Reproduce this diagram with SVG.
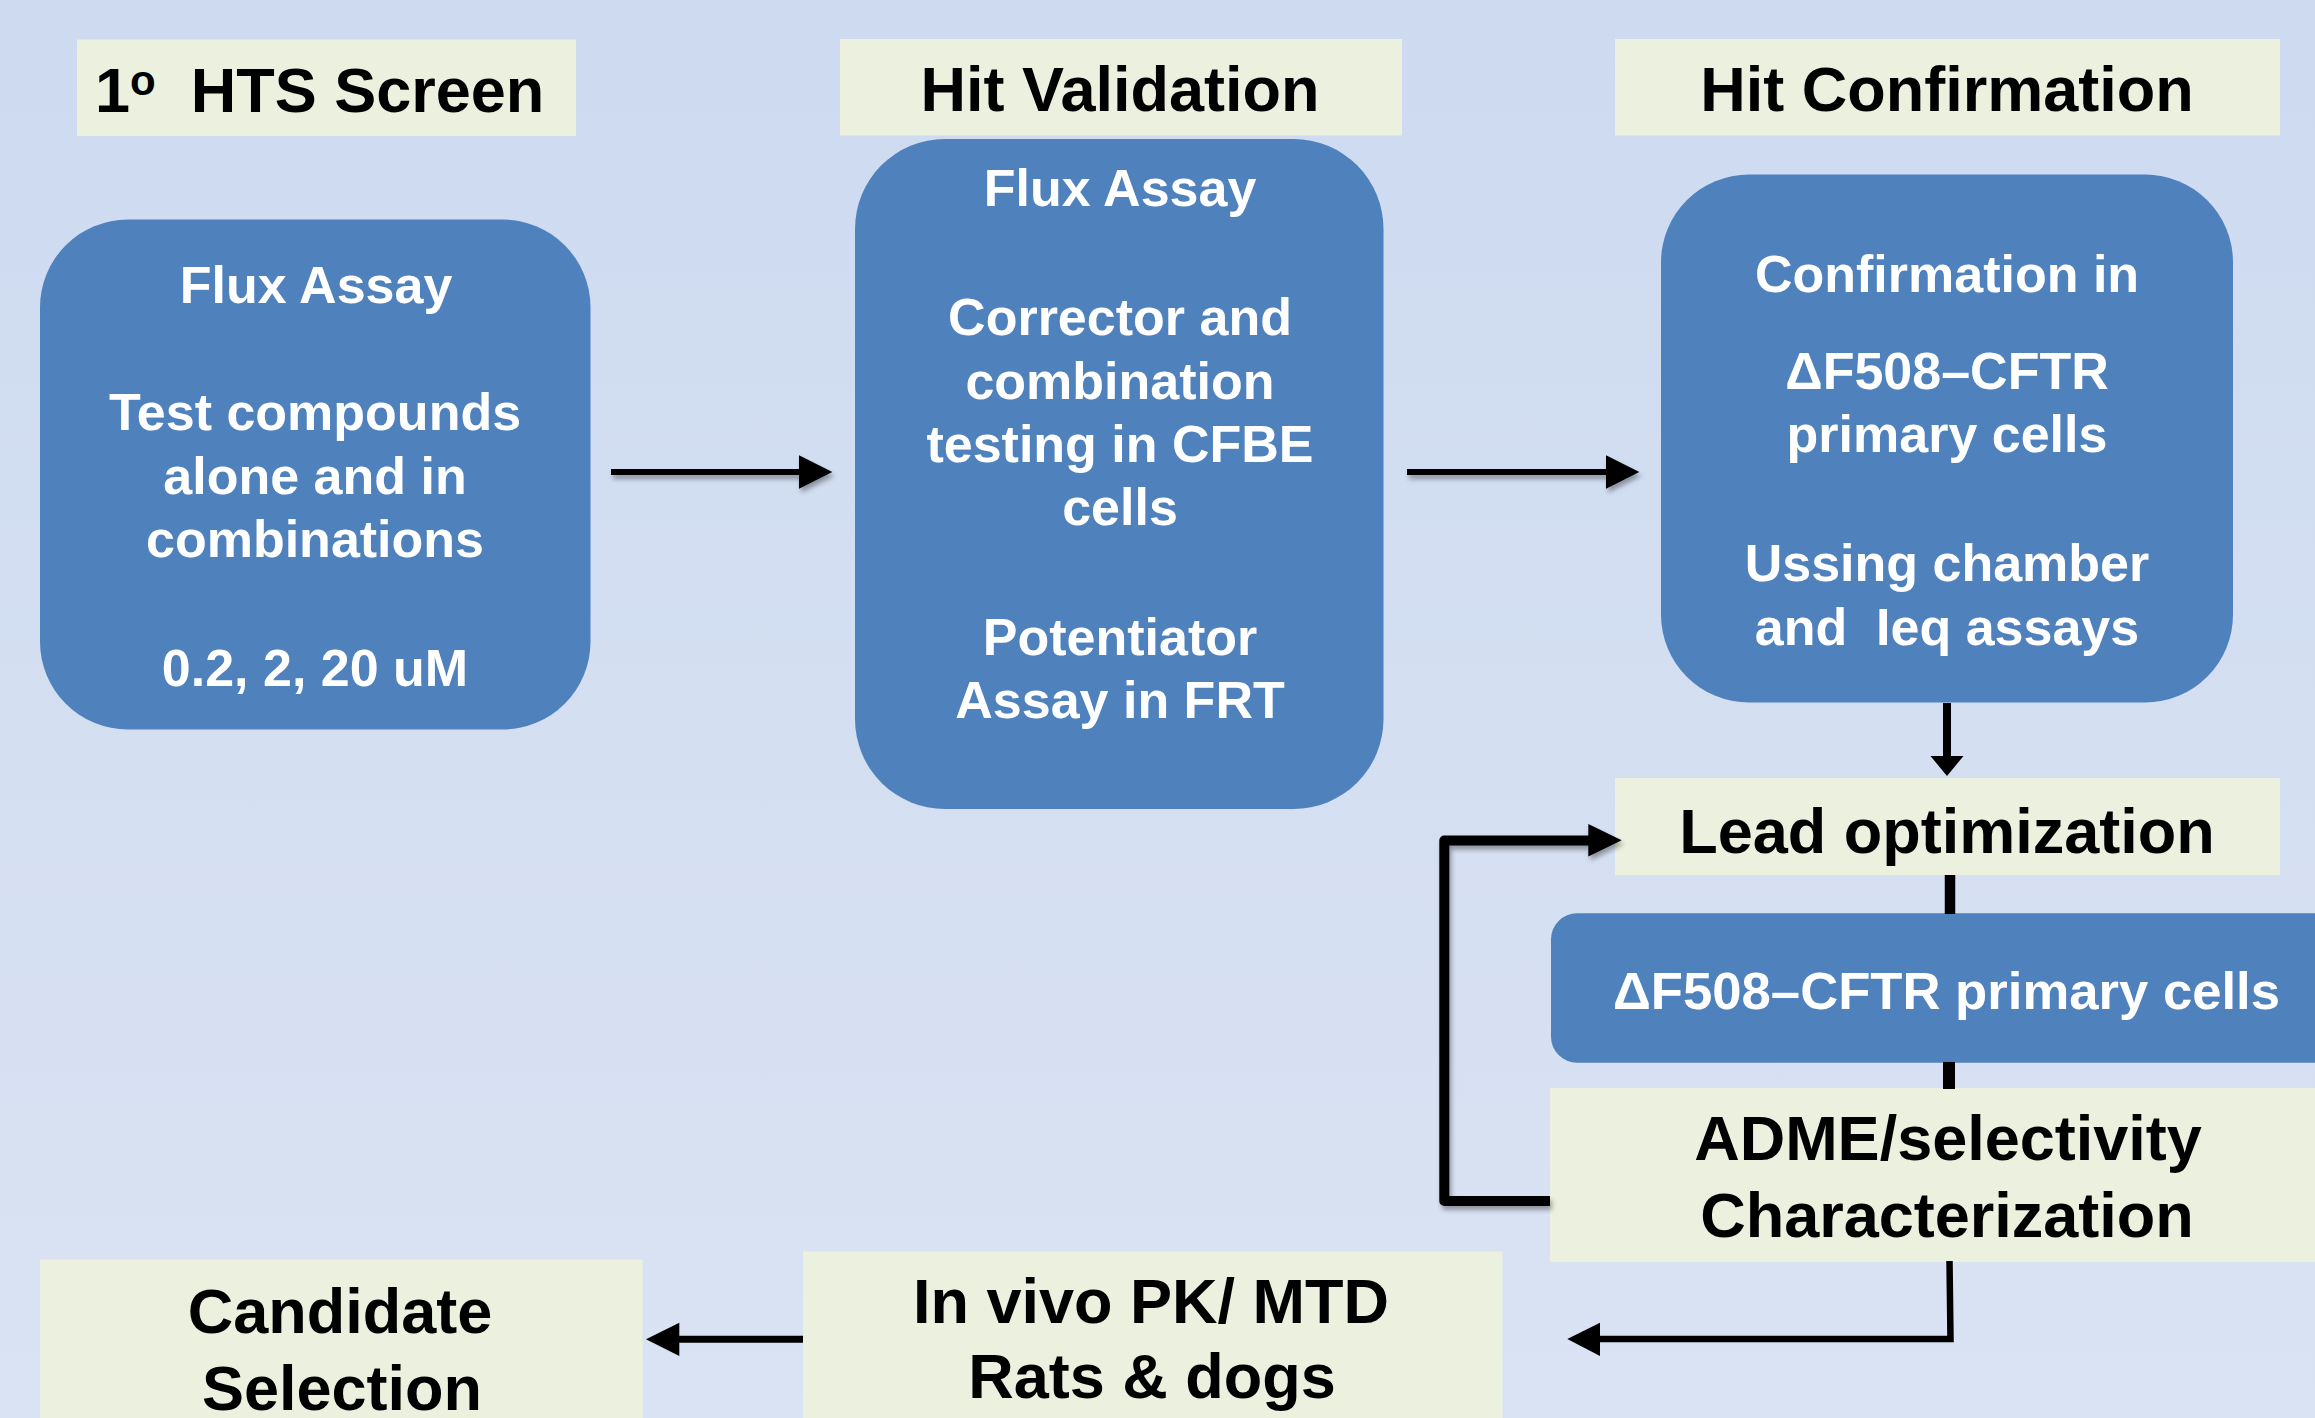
<svg xmlns="http://www.w3.org/2000/svg" width="2315" height="1418" viewBox="0 0 2315 1418">
  <style>
    .stage { fill: #EBF1DE; }
    .panel { fill: #4F81BD; }
    .hd { font-family: "Liberation Sans", Arial, sans-serif; font-weight: bold; fill: #000; font-size: 63px; }
    .bd { font-family: "Liberation Sans", Arial, sans-serif; font-weight: bold; fill: #FFFFFF; font-size: 52px; text-anchor: middle; }
    .mid { text-anchor: middle; }
    .pre { white-space: pre; }
    .wire { fill: none; stroke: #000; stroke-linecap: butt; }
    .head { fill: #000; }
  </style>
  <defs>
    <linearGradient id="bg" x1="0" y1="0" x2="0" y2="1">
      <stop offset="0" stop-color="#CDDAF0"/>
      <stop offset="1" stop-color="#DAE3F3"/>
    </linearGradient>
    <filter id="shade" x="-10%" y="-60%" width="120%" height="220%">
      <feGaussianBlur in="SourceAlpha" stdDeviation="2.5"/>
      <feOffset dx="2" dy="4" result="b"/>
      <feComponentTransfer><feFuncA type="linear" slope="0.35"/></feComponentTransfer>
      <feMerge><feMergeNode/><feMergeNode in="SourceGraphic"/></feMerge>
    </filter>
  </defs>

  <rect x="0" y="0" width="2315" height="1418" fill="url(#bg)"/>

  <!-- stage titles -->
  <g id="hts-title">
    <rect class="stage" x="77" y="39.5" width="499" height="96.5"/>
    <text class="hd pre" x="95" y="111.5">1<tspan font-size="42" dy="-16.5">o</tspan><tspan dy="16.5">  HTS Screen</tspan></text>
  </g>
  <g id="validation-title">
    <rect class="stage" x="840" y="39" width="562" height="96.5"/>
    <text class="hd mid" x="1120" y="111">Hit Validation</text>
  </g>
  <g id="confirmation-title">
    <rect class="stage" x="1615" y="39" width="665" height="96.5"/>
    <text class="hd mid" x="1947" y="111">Hit Confirmation</text>
  </g>

  <!-- primary screen -->
  <g id="hts-box">
    <rect class="panel" x="40" y="219.5" width="550.5" height="510" rx="88" ry="88"/>
    <text class="bd" x="316" y="303">Flux Assay</text>
    <text class="bd" x="315" y="430">Test compounds</text>
    <text class="bd" x="315" y="494">alone and in</text>
    <text class="bd" x="315" y="557">combinations</text>
    <text class="bd" x="315" y="686">0.2, 2, 20 uM</text>
  </g>

  <!-- hit validation -->
  <g id="validation-box">
    <rect class="panel" x="855" y="139" width="528.5" height="670" rx="90" ry="90"/>
    <text class="bd" x="1120" y="206">Flux Assay</text>
    <text class="bd" x="1120" y="335">Corrector and</text>
    <text class="bd" x="1120" y="399">combination</text>
    <text class="bd" x="1120" y="462">testing in CFBE</text>
    <text class="bd" x="1120" y="525">cells</text>
    <text class="bd" x="1120" y="654.5">Potentiator</text>
    <text class="bd" x="1120" y="718">Assay in FRT</text>
  </g>

  <!-- hit confirmation -->
  <g id="confirmation-box">
    <rect class="panel" x="1661" y="174.5" width="572" height="528" rx="88" ry="88"/>
    <text class="bd" x="1947" y="291.5">Confirmation in</text>
    <text class="bd" x="1947" y="389">ΔF508–CFTR</text>
    <text class="bd" x="1947" y="452">primary cells</text>
    <text class="bd" x="1947" y="581">Ussing chamber</text>
    <text class="bd pre" x="1947" y="645">and  Ieq assays</text>
  </g>

  <!-- lead optimization cycle -->
  <g id="lead-optimization">
    <rect class="stage" x="1615" y="778" width="665" height="97"/>
    <text class="hd mid" x="1947" y="853" font-size="64">Lead optimization</text>
  </g>
  <g id="primary-cells">
    <rect class="panel" x="1551" y="913.3" width="820" height="149.4" rx="26" ry="26"/>
    <text class="bd" style="text-anchor:start" x="1613" y="1009" font-size="55" textLength="667" lengthAdjust="spacingAndGlyphs">ΔF508–CFTR primary cells</text>
  </g>
  <g id="adme">
    <rect class="stage" x="1550" y="1088" width="770" height="174"/>
    <text class="hd mid" x="1948" y="1160">ADME/selectivity</text>
    <text class="hd mid" x="1947" y="1237">Characterization</text>
  </g>

  <!-- in vivo and candidate -->
  <g id="in-vivo">
    <rect class="stage" x="803" y="1251.5" width="699.5" height="170"/>
    <text class="hd mid" x="1151" y="1323" font-size="64">In vivo PK/ MTD</text>
    <text class="hd mid" x="1152" y="1398" font-size="64">Rats &amp; dogs</text>
  </g>
  <g id="candidate">
    <rect class="stage" x="40" y="1259.5" width="602.5" height="162"/>
    <text class="hd mid" x="340" y="1333" font-size="64">Candidate</text>
    <text class="hd mid" x="342" y="1410" font-size="64">Selection</text>
  </g>

  <!-- connectors -->
  <g id="connectors">
    <g filter="url(#shade)">
      <line class="wire" x1="611" y1="472" x2="800" y2="472" stroke-width="6"/>
      <polygon class="head" points="799,455.3 832.3,472 799,488.7"/>
    </g>
    <g filter="url(#shade)">
      <line class="wire" x1="1407" y1="472" x2="1607" y2="472" stroke-width="6"/>
      <polygon class="head" points="1606,455.3 1639.3,472 1606,488.7"/>
    </g>
    <line class="wire" x1="1947" y1="703" x2="1947" y2="757" stroke-width="8"/>
    <polygon class="head" points="1930.5,756 1963.5,756 1947,776"/>
    <line class="wire" x1="1950" y1="875" x2="1950" y2="914" stroke-width="10.5"/>
    <line class="wire" x1="1949" y1="1062" x2="1949" y2="1089" stroke-width="12"/>
    <g filter="url(#shade)">
      <path class="wire" d="M1550,1201 H1444.3 V840.5 H1590" stroke-width="10" stroke-linejoin="round"/>
      <polygon class="head" points="1588.3,824 1621.7,840.3 1588.3,856.5"/>
    </g>
    <path class="wire" d="M1949.5,1261 L1950.5,1339 H1599" stroke-width="6.5"/>
    <polygon class="head" points="1600,1322.7 1567.3,1339 1600,1356"/>
    <line class="wire" x1="803" y1="1339.2" x2="678" y2="1339.2" stroke-width="7"/>
    <polygon class="head" points="679.3,1322.7 646,1339.3 679.3,1356"/>
  </g>
</svg>
